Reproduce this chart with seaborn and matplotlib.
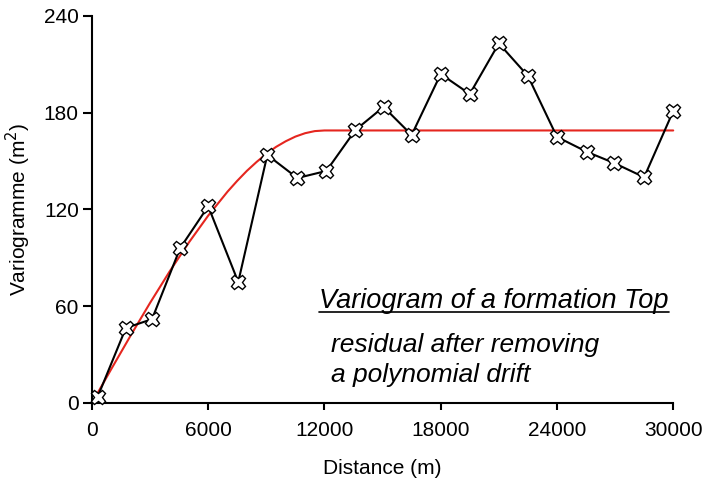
import matplotlib
matplotlib.use("Agg")
import matplotlib.pyplot as plt
import seaborn as sns
import pandas as pd

distance = [300, 1750, 3100, 4550, 6000, 7550, 9050, 10600, 12100, 13600,
            15050, 16500, 18000, 19500, 21000, 22500, 24000, 25550, 26950,
            28500, 30000]
gamma = [4, 46.5, 52, 96, 122, 75, 153.8, 139.5, 143.9, 169.3,
         183.6, 166.2, 204, 191.6, 223, 202.8, 165, 155.7, 148.8,
         140, 181]

# fitted model curve
model_x = [300, 1000, 2000, 3000, 4000, 5000, 6000, 7000, 7500, 8000, 8500,
           9000, 9500, 10000, 10500, 11000, 11500, 12000, 30000]
model_y = [6.3, 21.1, 41.9, 62.1, 81.4, 99.5, 116.2, 131.1, 137.8, 144.0,
           149.5, 154.5, 158.8, 162.3, 165.2, 167.3, 168.6, 169.0, 169.0]

x_ticks = [0, 6000, 12000, 18000, 24000, 30000]
y_ticks = [0, 60, 120, 180, 240]

sns.set_style("ticks")
plt.rcParams["font.family"] = ["Liberation Sans", "DejaVu Sans"]
plt.rcParams["text.color"] = "black"
plt.rcParams["axes.labelcolor"] = "black"

fig = plt.figure(figsize=(7.02, 4.84), dpi=100)
ax = fig.add_axes([0.131, 0.1674, 0.828, 0.7996])

df_exp = pd.DataFrame({"x": distance, "y": gamma})
df_mod = pd.DataFrame({"x": model_x, "y": model_y})

sns.lineplot(data=df_mod, x="x", y="y", ax=ax, color="#e5261f", linewidth=1.5,
             zorder=2)
sns.lineplot(data=df_exp, x="x", y="y", ax=ax, color="black", linewidth=1.5,
             marker="X", markersize=10.5, markerfacecolor="white",
             markeredgecolor="black", markeredgewidth=1.0, zorder=3)
for ln in ax.lines:
    ln.set_clip_on(False)

ax.set_xlim(0, 30000)
ax.set_ylim(0, 240)
ax.set_xticks(x_ticks)
ax.set_yticks(y_ticks)
ax.tick_params(axis="both", labelsize=15, width=1.5, colors="black")
ax.tick_params(axis="x", length=5, pad=8)
ax.tick_params(axis="y", length=6.5, pad=3)
for s in ["left", "bottom"]:
    ax.spines[s].set_linewidth(1.5)
    ax.spines[s].set_color("black")
sns.despine(ax=ax)

ax.set_xlabel("Distance (m)", fontsize=15, labelpad=14)
ax.set_ylabel("Variogramme (m$^2$)", fontsize=15, labelpad=8)

t = ax.text(0.391, 0.2455, "Variogram of a formation Top", transform=ax.transAxes,
            fontsize=19.5, fontstyle="italic", ha="left", va="baseline")
ax.text(0.412, 0.132, "residual after removing", transform=ax.transAxes,
        fontsize=19, fontstyle="italic", ha="left", va="baseline")
ax.text(0.412, 0.054, "a polynomial drift", transform=ax.transAxes,
        fontsize=19, fontstyle="italic", ha="left", va="baseline")

# underline the title text
fig.canvas.draw()
bb = t.get_window_extent().transformed(ax.transAxes.inverted())
uy = 0.2455 - 4.0 / 387
ax.plot([bb.x0, bb.x1], [uy, uy], transform=ax.transAxes, color="black",
        linewidth=1.2, clip_on=False)

fig.savefig("out.png", dpi=100)
